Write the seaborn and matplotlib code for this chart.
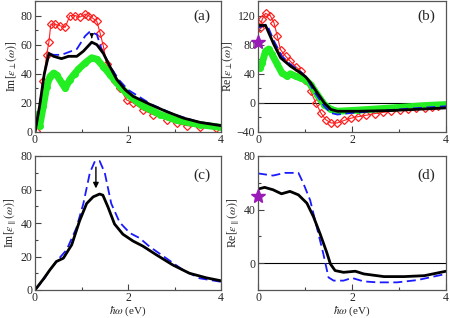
import numpy as np
import pandas as pd
import matplotlib
matplotlib.use("Agg")
import matplotlib.pyplot as plt
import seaborn as sns
from matplotlib.ticker import MultipleLocator

sns.set_theme(style="ticks")
plt.rcParams['font.family'] = ['Liberation Serif', 'DejaVu Serif']
plt.rcParams['mathtext.fontset'] = 'stix'

# ---------------- data ----------------
# (a) Im eps_perp
a_red_x = [0.02, 0.1, 0.18, 0.25, 0.3, 0.34, 0.43, 0.54, 0.65, 0.75, 0.86, 0.97, 1.08, 1.15, 1.25, 1.33,
           1.4, 1.47, 1.54, 1.61, 1.72, 1.83, 1.97, 2.11, 2.33, 2.54, 2.83, 3.05, 3.26, 3.55, 3.9]
a_red_y = [1, 12, 35, 53, 62, 74, 74, 73, 72, 80, 80, 79, 81, 80, 78, 76,
           68, 59, 47, 41, 35, 30, 22, 20, 15, 12, 8.5, 6, 4.4, 3.4, 2.8]
a_blue_x = [0.0, 0.1, 0.2, 0.3, 0.4, 0.57, 0.9, 1.08, 1.18, 1.33, 1.43, 1.6, 1.8, 2.0, 2.5, 3.0, 3.5, 4.0]
a_blue_y = [0, 18, 40, 54, 53, 53, 57, 66, 69, 67, 57, 46, 36, 29, 19, 12, 7, 4.5]
a_blk_x = [0.0, 0.1, 0.2, 0.3, 0.4, 0.57, 0.72, 0.9, 1.04, 1.22, 1.33, 1.47, 1.61, 1.76, 1.94, 2.11,
           2.47, 2.83, 3.19, 3.55, 4.0]
a_blk_y = [0, 18, 40, 54, 52, 50.4, 52, 52, 55.5, 61.7, 60, 54, 45, 36, 29, 24.5,
           19, 14, 9.6, 6.6, 4.4]
a_grn_x = [0.02, 0.06, 0.1, 0.18, 0.25, 0.32, 0.4, 0.47, 0.57, 0.65, 0.75, 0.85, 0.93, 1.08, 1.22, 1.33,
           1.47, 1.61, 1.83, 2.04, 2.33, 2.69, 3.05, 3.55, 4.0]
a_grn_y = [12, 6, 4, 18, 31, 38, 40.5, 39, 34, 30, 36, 40, 43, 47.5, 51, 50,
           45, 39.5, 31, 24.5, 17.6, 12, 8, 5, 3.2]

# (b) Re eps_perp
b_red_x = [0.0, 0.04, 0.09, 0.16, 0.26, 0.34, 0.41, 0.48, 0.59, 0.69, 0.8, 0.91, 1.01, 1.12, 1.23, 1.34,
           1.44, 1.55, 1.69, 1.84, 1.98, 2.12, 2.3, 2.48, 2.66, 2.84, 3.02, 3.19, 3.37, 3.55, 3.7, 3.84]
b_red_y = [105, 103, 115, 123, 120, 110, 92, 73, 64, 57, 50, 43.6, 32, 16, 0, -14,
           -23, -27.5, -27.5, -24, -21, -19, -17, -14.7, -13, -11.5, -10, -9, -7.6, -6.4, -5.5, -4.6]
b_blue_x = [0.0, 0.19, 0.34, 0.51, 0.69, 0.94, 1.05, 1.19, 1.41, 1.55, 1.69, 1.98, 2.48, 3.19, 4.0]
b_blue_y = [103, 108, 85, 64, 53, 41, 32, 16, -4.6, -13.8, -16, -13.8, -11.5, -8, -4.6]
b_blk_x = [0.0, 0.16, 0.26, 0.34, 0.48, 0.69, 0.91, 1.01, 1.12, 1.26, 1.41, 1.55, 1.69, 2.12, 2.84, 3.55, 4.0]
b_blk_y = [106.4, 106.4, 91.7, 80, 62, 50.5, 41, 36, 27.5, 13.8, 0, -9, -11.5, -11.5, -10.5, -8.3, -6.9]
b_grn_x = [0.05, 0.09, 0.16, 0.23, 0.3, 0.41, 0.51, 0.62, 0.69, 0.8, 0.91, 1.01, 1.12, 1.26, 1.41,
           1.55, 1.69, 2.12, 2.84, 3.55, 4.0]
b_grn_y = [48, 55, 71, 74, 66.5, 53, 41, 36.7, 40, 36.7, 34, 32, 25, 11.5, -2.3,
           -9, -11.5, -10, -7, -3.7, -2.3]
b_star = (0.0, 84)

# (c) Im eps_par
c_blue_x = [0.0, 0.18, 0.32, 0.46, 0.68, 0.89, 1.04, 1.18, 1.29, 1.39, 1.5, 1.64, 1.82, 2.04, 2.25,
            2.46, 2.82, 3.18, 3.54, 4.0]
c_blue_y = [0, 5.9, 12, 17, 24, 37, 51.6, 70, 77, 77, 70, 51.6, 40.4, 34, 31, 26, 19, 12, 7, 4.9]
c_blk_x = [0.0, 0.18, 0.32, 0.46, 0.61, 0.79, 0.96, 1.11, 1.25, 1.39, 1.46, 1.57, 1.71, 1.89, 2.11,
           2.32, 2.61, 2.96, 3.32, 3.68, 4.0]
c_blk_y = [0, 6.5, 12, 17, 19, 27, 41.4, 51.6, 55.6, 57.3, 56.6, 49.5, 39.4, 33.3, 29.2,
           26.2, 21, 15, 10, 7.3, 5.5]

# (d) Re eps_par
d_blue_x = [0.0, 0.32, 0.57, 0.86, 0.96, 1.11, 1.25, 1.39, 1.5, 1.61, 1.82, 2.0, 2.25, 2.54, 2.96, 3.39, 4.0]
d_blue_y = [67, 65.4, 67.4, 67.4, 60, 47, 27, 7, -10.6, -13, -13, -11, -13.6, -14.3, -14.3, -12.6, -8]
d_blk_x = [0.0, 0.14, 0.32, 0.5, 0.68, 0.86, 1.04, 1.18, 1.32, 1.46, 1.54, 1.64, 1.82, 2.07, 2.25,
           2.68, 3.11, 3.54, 4.0]
d_blk_y = [55.3, 56.6, 54.8, 51.8, 53.6, 51, 44.8, 34.7, 22, 8.3, -0.5, -5.5, -6.8, -6, -8,
           -10, -10, -9.3, -6]
d_star = (0.0, 49.8)

ylabels = [r"Im[$\epsilon_{\perp}(\omega)$]", r"Re[$\epsilon_{\perp}(\omega)$]",
           r"Im[$\epsilon_{\parallel}(\omega)$]", r"Re[$\epsilon_{\parallel}(\omega)$]"]
panel_tags = ["(a)", "(b)", "(c)", "(d)"]
xlabel = r"$\hbar\omega$ (eV)"

# ---------------- figure ----------------
fig = plt.figure(figsize=(4.5, 3.18), dpi=100)
W, H = 450.0, 318.0
def mkax(l, r, t, b):
    return fig.add_axes([l / W, 1 - b / H, (r - l) / W, (b - t) / H])
axa = mkax(35, 221, 1, 132)
axb = mkax(258, 446, 1, 132)
axc = mkax(35, 221, 156, 290)
axd = mkax(258, 446, 156, 290)

RED = '#ff2020'
GRN = '#22ee22'
BLUE = '#1a1aff'
PURP = '#9a1ab8'

def line(ax, x, y, **kw):
    sns.lineplot(x=np.asarray(x, float), y=np.asarray(y, float), ax=ax, sort=False,
                 estimator=None, legend=False, **kw)

def green(ax, x, y):
    line(ax, x, y, color=GRN, linewidth=5, solid_capstyle='round', solid_joinstyle='round')
    line(ax, x, y, color=GRN, linewidth=0, marker='o', markersize=4,
         markerfacecolor=GRN, markeredgecolor=GRN, markeredgewidth=1.0)

def red(ax, x, y):
    line(ax, x, y, color=RED, linewidth=0.8, marker='D', markersize=3.6,
         markerfacecolor='none', markeredgecolor=RED, markeredgewidth=0.9)

# (a)
red(axa, a_red_x, a_red_y)
green(axa, a_grn_x, a_grn_y)
line(axa, a_blue_x, a_blue_y, color=BLUE, linewidth=1.3, dashes=(5, 2.5))
line(axa, a_blk_x, a_blk_y, color='black', linewidth=2.0)
axa.annotate('', xy=(1.22, 62.5), xytext=(1.22, 67),
             arrowprops=dict(arrowstyle='-|>', color='black', lw=0.8, mutation_scale=6))

# (b)
red(axb, b_red_x, b_red_y)
green(axb, b_grn_x, b_grn_y)
line(axb, b_blue_x, b_blue_y, color=BLUE, linewidth=1.3, dashes=(5, 2.5))
line(axb, b_blk_x, b_blk_y, color='black', linewidth=2.0)
axb.axhline(0, color='black', linewidth=0.8, zorder=0)
axb.plot([b_star[0]], [b_star[1]], marker='*', markersize=10, color=PURP, clip_on=False, zorder=5)

# (c)
line(axc, c_blue_x, c_blue_y, color=BLUE, linewidth=1.3, dashes=(5, 2.5))
line(axc, c_blk_x, c_blk_y, color='black', linewidth=2.0)
axc.annotate('', xy=(1.31, 59), xytext=(1.31, 75),
             arrowprops=dict(arrowstyle='-|>', color='black', lw=1.0, mutation_scale=8))

# (d)
line(axd, d_blue_x, d_blue_y, color=BLUE, linewidth=1.3, dashes=(5, 2.5))
line(axd, d_blk_x, d_blk_y, color='black', linewidth=2.0)
axd.axhline(0, color='black', linewidth=0.8, zorder=0)
axd.plot([d_star[0]], [d_star[1]], marker='*', markersize=10, color=PURP, clip_on=False, zorder=5)

ylims = [(0, 90), (-40, 140), (0, 80), (-20, 80)]
ymaj = [20, 40, 20, 40]
ymin = [10, 20, 10, 20]
tagpos = [(0.895, 0.88), (0.895, 0.88), (0.895, 0.86), (0.895, 0.86)]
for i, ax in enumerate([axa, axb, axc, axd]):
    ax.set_xlim(0, 4)
    ax.set_ylim(*ylims[i])
    ax.xaxis.set_major_locator(MultipleLocator(2))
    ax.xaxis.set_minor_locator(MultipleLocator(1))
    ax.yaxis.set_major_locator(MultipleLocator(ymaj[i]))
    ax.yaxis.set_minor_locator(MultipleLocator(ymin[i]))
    ax.tick_params(which='both', direction='in', labelsize=8.5, color='#444444', pad=2)
    ax.tick_params(axis='x', which='both', pad=1.5)
    ax.tick_params(which='major', length=4, width=0.8)
    ax.tick_params(which='minor', length=2, width=0.8)
    for s in ax.spines.values():
        s.set_color('#555555')
        s.set_linewidth(0.9)
    ax.set_ylabel(ylabels[i], fontsize=8.5, labelpad=1)
    ax.set_xlabel('')
    ax.text(tagpos[i][0], tagpos[i][1], panel_tags[i], transform=ax.transAxes,
            ha='center', va='center', fontsize=11)
    if i >= 2:
        ax.set_xlabel(xlabel, fontsize=8, va='center')
        ax.xaxis.set_label_coords(0.5, -0.158)

fig.savefig('out.png', dpi=100)
